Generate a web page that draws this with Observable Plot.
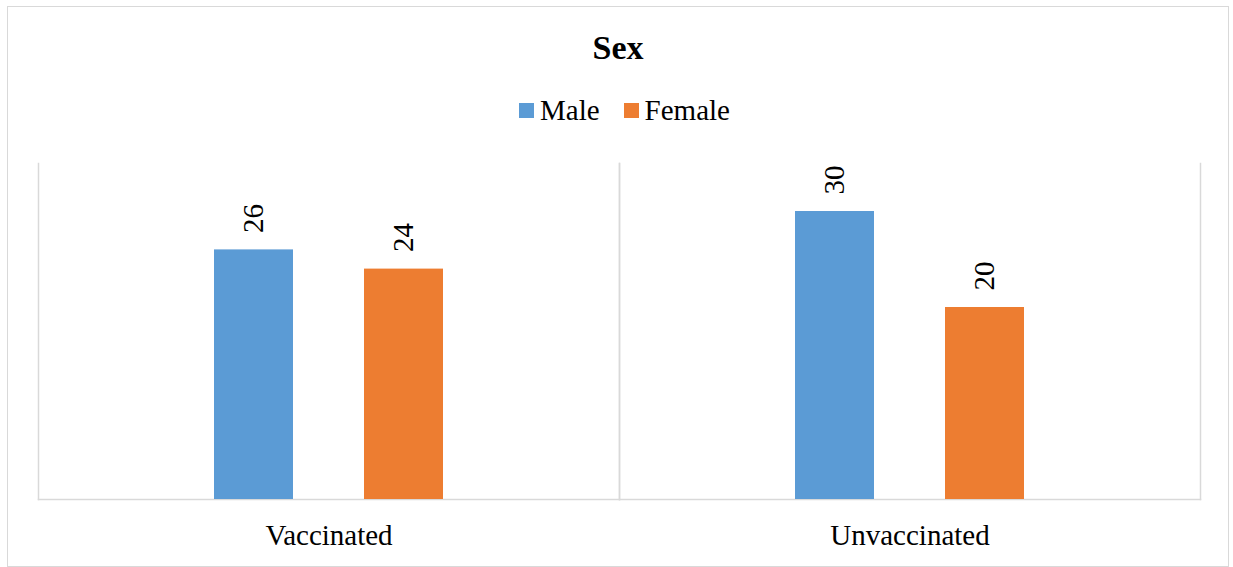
<!DOCTYPE html>
<html>
<head>
<meta charset="utf-8">
<script src="https://cdn.jsdelivr.net/npm/d3@7"></script>
<script src="https://cdn.jsdelivr.net/npm/@observablehq/plot@0.6"></script>
<style>
  html, body { margin: 0; padding: 0; background: #fff; }
  body { width: 1233px; height: 567px; position: relative; overflow: hidden;
         font-family: "Liberation Serif", "Times New Roman", serif; color: #000; }
  #border { position: absolute; left: 7px; top: 6px; width: 1222px; height: 561px;
            box-sizing: border-box; border: 1.5px solid #d9d9d9; }
  #title { position: absolute; left: 7px; width: 1222px; top: 31px; text-align: center;
           font-size: 34px; line-height: 34px; font-weight: bold; }
  #legend { position: absolute; left: 519px; top: 96px; display: flex; align-items: center;
            font-size: 29px; line-height: 29px; }
  .item { display: flex; align-items: center; }
  .sw { width: 15px; height: 15px; margin-right: 6px; }
  #chart { position: absolute; left: 0; top: 140px; }
  #chart svg text { font-family: "Liberation Serif", "Times New Roman", serif; }
</style>
</head>
<body>
<div id="border"></div>
<div id="title">Sex</div>
<div id="legend"></div>
<div id="chart"></div>
<script>
const groups = ["Vaccinated", "Unvaccinated"];
const sexes = ["Male", "Female"];
const maleValues = [26, 30];
const femaleValues = [24, 20];
const colors = ["#5b9bd5", "#ed7d31"];

const data = [];
groups.forEach((g, i) => {
  data.push({group: g, sex: "Male", value: maleValues[i]});
  data.push({group: g, sex: "Female", value: femaleValues[i]});
});

// legend
const legend = document.getElementById("legend");
sexes.forEach((s, i) => {
  const it = document.createElement("div");
  it.className = "item";
  if (i > 0) it.style.marginLeft = "24px";
  const sw = document.createElement("div");
  sw.className = "sw";
  sw.style.background = colors[i];
  const t = document.createElement("span");
  t.textContent = s;
  it.appendChild(sw); it.appendChild(t);
  legend.appendChild(it);
});

const gridColor = "#d9d9d9";
const serif = "Liberation Serif, Times New Roman, serif";
const chart = Plot.plot({
  width: 1233,
  height: 420,
  marginLeft: 38,
  marginRight: 33,
  marginTop: 23,
  marginBottom: 61,
  style: {fontFamily: serif, fontSize: "29px", color: "#000", background: "transparent", overflow: "visible"},
  fx: {domain: groups, padding: 0, axis: "bottom", label: null, tickSize: 0, tickPadding: 25},
  x: {domain: sexes, axis: null, paddingInner: 0.475, paddingOuter: 1.164, align: 0.5},
  y: {domain: [0, 35], axis: null},
  color: {domain: sexes, range: colors},
  marks: [
    Plot.frame({anchor: "left", stroke: gridColor, strokeWidth: 1.5}),
    Plot.frame({anchor: "right", stroke: gridColor, strokeWidth: 1.5}),
    Plot.frame({anchor: "bottom", stroke: gridColor, strokeWidth: 1.5}),
    Plot.barY(data, {fx: "group", x: "sex", y: "value", fill: "sex"}),
    Plot.text(data, {fx: "group", x: "sex", y: "value", text: d => String(d.value),
      rotate: -90, textAnchor: "start", dy: -17, fill: "#000", fontSize: 29, fontFamily: serif})
  ]
});
document.getElementById("chart").appendChild(chart);
</script>
</body>
</html>
